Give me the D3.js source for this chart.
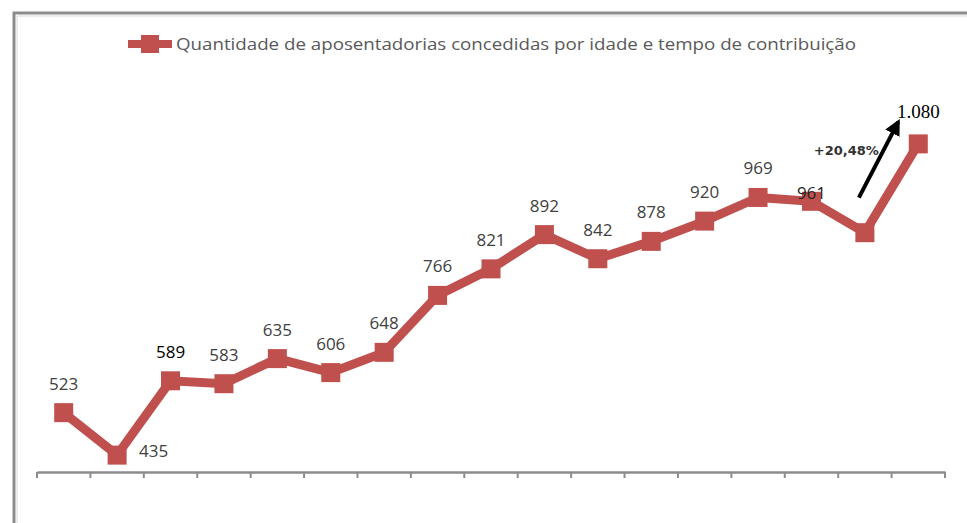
<!DOCTYPE html>
<html><head><meta charset="utf-8">
<script src="https://cdn.jsdelivr.net/npm/d3@7"></script>
<style>html,body{margin:0;padding:0;background:#fff;}svg{display:block;}</style>
</head><body>
<svg id="chart" width="967" height="523"></svg>
<script>
const categories = d3.range(1, 18).map(String);
const values = [523, 435, 589, 583, 635, 606, 648, 766, 821, 892, 842, 878, 920, 969, 961, 896, 1080];
const valueLabels = ["523","435","589","583","635","606","648","766","821","892","842","878","920","969","961","","1.080"];
const seriesName = "Quantidade de aposentadorias concedidas por idade e tempo de contribuição";
const growthLabel = "+20,48%";
const yDomain = [400, 1200];

const svg = d3.select("#chart");
const red = "#C0504D";

// frame
svg.append("path").attr("d", "M14,523 L14,13 L967,13").attr("fill","none")
  .attr("stroke","#8c8c8c").attr("stroke-width",3);
svg.append("path").attr("d", "M17,523 L17,16 L967,16").attr("fill","none")
  .attr("stroke","#d8d8d8").attr("stroke-width",1);

const x = d3.scaleBand().domain(categories).range([37, 945]).padding(0);
const y = d3.scaleLinear().domain(yDomain).range([472, 86]);

// axis
const axis = d3.axisBottom(x).tickSize(0).tickFormat("");
const gx = svg.append("g").attr("transform","translate(0,472)").call(axis);
gx.select(".domain").attr("stroke","#8c8c8c").attr("stroke-width",2.5);
const bounds = categories.map(c => x(c)).concat([x(categories[categories.length-1]) + x.bandwidth()]);
gx.selectAll("line.tk").data(bounds).join("line").attr("class","tk")
  .attr("x1", d => d).attr("x2", d => d).attr("y1", 0).attr("y2", 6)
  .attr("stroke","#8c8c8c").attr("stroke-width",2);

const cx = i => x(categories[i]) + x.bandwidth()/2;
const line = d3.line().x((d,i) => cx(i)).y(d => y(d));
svg.append("path").datum(values).attr("d", line).attr("fill","none")
  .attr("stroke", red).attr("stroke-width", 9).attr("stroke-linejoin","miter");

const ms = 19;
svg.selectAll("rect.mk").data(values).join("rect").attr("class","mk")
  .attr("x", (d,i) => cx(i) - ms/2).attr("y", d => y(d) - ms/2)
  .attr("width", ms).attr("height", ms).attr("fill", red);

// labels
svg.selectAll("text.lbl").data(values).join("text").attr("class","lbl")
  .attr("x", (d,i) => i === 1 ? cx(i) + 22 : cx(i))
  .attr("y", (d,i) => i === 1 ? y(d) + 2 : (i === 14 ? y(d) - 2 : (i === 16 ? y(d) - 26 : y(d) - 23)))
  .attr("text-anchor", (d,i) => i === 1 ? "start" : "middle")
  .attr("font-family", (d,i) => i === 16 ? "Liberation Serif, DejaVu Serif, serif" : "Open Sans, sans-serif")
  .attr("font-size", (d,i) => i === 16 ? 19 : 17)
  .attr("fill", (d,i) => (i === 2 || i === 16) ? "#000" : (i === 14 ? "#222" : "#404040"))
  .text((d,i) => valueLabels[i]);

// arrow
svg.append("defs").append("marker").attr("id","ah").attr("viewBox","0 0 10 10")
  .attr("refX",8).attr("refY",5).attr("markerWidth",4).attr("markerHeight",4)
  .attr("orient","auto").append("path").attr("d","M0,0 L10,5 L0,10 z").attr("fill","#000");
const ax0 = cx(15) - 6, ay0 = y(values[15]) - 35;
const ax1 = cx(16) - 20, ay1 = y(values[16]) - 22;
svg.append("line").attr("x1", ax0).attr("y1", ay0).attr("x2", ax1).attr("y2", ay1)
  .attr("stroke","#000").attr("stroke-width",4).attr("marker-end","url(#ah)");
svg.append("text").attr("x", ax0 + 20).attr("y", ay0 - 43).attr("text-anchor","end")
  .attr("font-family","DejaVu Sans, sans-serif").attr("font-size",13).attr("font-weight","bold")
  .attr("fill","#333").text(growthLabel);

// legend
const lg = svg.append("g").attr("transform","translate(0,44)");
lg.append("line").attr("x1",128).attr("x2",172).attr("y1",0).attr("y2",0)
  .attr("stroke", red).attr("stroke-width",8);
lg.append("rect").attr("x",141).attr("y",-9).attr("width",18).attr("height",18).attr("fill",red);
lg.append("text").attr("x",176).attr("y",6).attr("font-family","Open Sans, sans-serif")
  .attr("font-size",16).attr("fill","#595959")
  .attr("textLength",680).attr("lengthAdjust","spacingAndGlyphs").text(seriesName);
</script>
</body></html>
